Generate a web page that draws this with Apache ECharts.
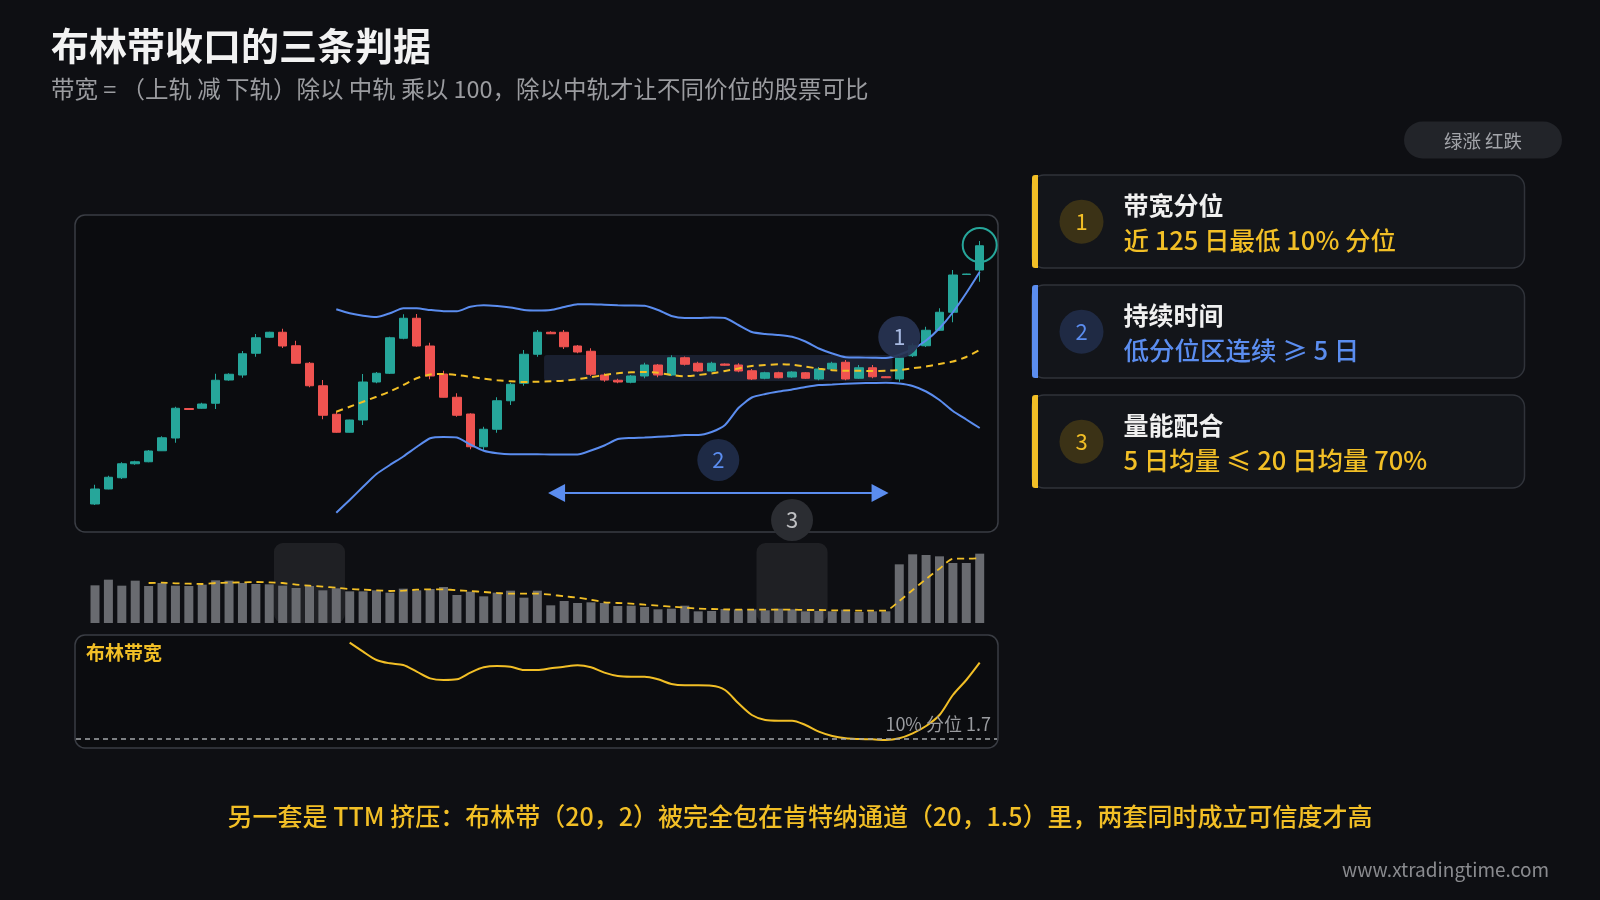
<!DOCTYPE html>
<html><head><meta charset="utf-8">
<script src="https://cdn.jsdelivr.net/npm/echarts/dist/echarts.min.js"></script>
<style>html,body{margin:0;padding:0;background:#0e0f13;}#c{width:1600px;height:900px;}</style>
</head><body><div id="c"></div>
<script>
// ---------- DATA ----------
const categories = Array.from({length: 67}, (_, i) => 'D' + (i + 1));

// [open, close, low, high]
const candles = [
 [7.84,8.44,7.80,8.61],[8.44,8.91,8.43,8.97],[8.89,9.45,8.84,9.51],[9.45,9.53,9.41,9.57],[9.53,9.96,9.51,10.00],
 [9.97,10.49,9.96,10.55],[10.48,11.67,10.29,11.73],[11.66,11.62,11.61,11.66],[11.67,11.84,11.65,11.89],[11.87,12.79,11.64,13.05],
 [12.80,13.03,12.77,13.07],[13.00,13.85,12.89,13.96],[13.87,14.49,13.73,14.64],[14.51,14.71,14.49,14.73],[14.71,14.16,14.08,14.85],
 [14.17,13.47,13.46,14.37],[13.47,12.57,12.51,13.52],[12.57,11.39,11.23,12.80],[11.43,10.71,10.69,11.55],[10.71,11.20,10.70,11.21],
 [11.20,12.72,11.00,13.04],[12.72,13.07,12.67,13.12],[13.07,14.49,13.04,14.53],[14.47,15.27,14.43,15.43],[15.27,14.16,14.13,15.44],
 [14.16,12.96,12.83,14.29],[13.04,12.11,12.10,13.17],[12.11,11.39,11.33,12.27],[11.44,10.13,10.03,11.47],[10.13,10.83,10.00,10.93],
 [10.83,11.97,10.69,12.11],[11.97,12.63,11.80,12.69],[12.67,13.83,12.57,14.00],[13.83,14.71,13.73,14.80],[14.71,14.65,14.64,14.75],
 [14.71,14.13,14.04,14.80],[14.16,13.92,13.87,14.20],[13.95,13.03,12.96,14.07],[13.00,12.80,12.73,13.07],[12.79,12.72,12.67,12.85],
 [12.71,12.96,12.67,13.00],[12.96,13.40,12.87,13.49],[13.40,13.00,12.91,13.44],[13.00,13.69,12.96,13.79],[13.69,13.43,13.38,13.74],
 [13.47,13.16,13.13,13.53],[13.16,13.47,13.13,13.53],[13.44,13.39,13.37,13.46],[13.40,13.16,13.11,13.47],[13.17,12.84,12.80,13.24],
 [12.87,13.09,12.83,13.13],[13.09,12.89,12.87,13.13],[12.92,13.12,12.89,13.15],[13.09,12.87,12.84,13.12],[12.84,13.24,12.79,13.32],
 [13.24,13.47,13.19,13.53],[13.51,12.84,12.79,13.60],[12.87,13.29,12.84,13.40],[13.29,12.93,12.87,13.40],[12.93,12.89,12.88,12.95],
 [12.84,13.69,12.73,13.77],[13.77,14.17,13.72,14.27],[14.17,14.79,14.12,14.93],[14.79,15.51,14.76,15.67],[15.51,17.00,15.11,17.20],
 [17.02,17.04,17.01,17.05],[17.20,18.17,16.73,18.36]
];

const BAND_START = 18;
const upperBand = [15.63,15.47,15.37,15.32,15.47,15.67,15.67,15.60,15.55,15.55,15.73,15.79,15.76,15.70,15.60,15.58,15.60,15.72,15.83,15.83,15.81,15.79,15.78,15.77,15.60,15.36,15.28,15.28,15.30,15.28,15.00,14.72,14.64,14.60,14.53,14.34,14.06,13.86,13.71,13.70,13.69,13.68,13.81,14.04,14.38,14.87,15.51,16.28,17.12];
const middleBand = [11.53,11.73,11.93,12.13,12.34,12.60,12.87,13.02,13.04,13.00,12.93,12.85,12.79,12.75,12.72,12.73,12.75,12.77,12.83,12.91,13.00,13.07,13.11,13.12,13.09,13.00,12.95,13.00,13.06,13.16,13.26,13.36,13.40,13.43,13.41,13.34,13.25,13.19,13.17,13.17,13.16,13.17,13.20,13.27,13.34,13.44,13.54,13.72,14.00];
const lowerBand = [7.49,8.00,8.53,9.04,9.40,9.74,10.12,10.47,10.52,10.50,10.22,9.97,9.87,9.83,9.83,9.83,9.82,9.82,9.82,9.98,10.18,10.44,10.48,10.50,10.53,10.56,10.60,10.60,10.72,11.00,11.68,12.10,12.24,12.34,12.42,12.52,12.60,12.62,12.65,12.67,12.68,12.69,12.66,12.56,12.34,12.00,11.56,11.22,10.88];

const volumes = [113,130,112,127,111,120,112,111,115,128,127,120,117,116,112,105,111,98,104,95,95,98,91,103,98,102,108,84,94,80,91,97,76,97,53,66,60,62,60,51,52,48,41,43,52,35,36,42,41,41,38,43,41,35,36,35,40,33,35,35,176,206,204,200,180,180,208];
const VOL_MA_START = 4;
const volumeMA5 = [120,121,119,118,117,120,121,122,123,122,120,115,112,109,106,102,100,98,96,97,100,101,101,98,96,93,90,88,88,88,85,80,76,70,62,60,58,55,52,49,46,43,42,41,40,40,40,40,40,39,39,38,38,37,37,37,66,99,132,163,193,193,194];

const BW_START = 19;
const bandwidth = [7.48,6.94,6.44,6.24,6.14,5.74,5.34,5.24,5.28,5.68,6.00,6.08,6.04,5.84,5.84,5.94,6.04,6.12,6.00,5.68,5.48,5.44,5.44,5.28,5.00,4.92,4.92,4.90,4.64,3.84,3.14,2.84,2.80,2.80,2.54,2.14,1.88,1.74,1.70,1.68,1.64,1.74,2.04,2.48,3.14,4.34,5.24,6.28];
const bwThreshold = 1.7;
const bwThresholdLabel = '10% 分位 1.7';

const squeezeZone = {from: 34, to: 59, top: 13.80, bottom: 12.76};
const volWindows = [[14, 18], [50, 54]];

const titleText = '布林带收口的三条判据';
const subtitleText = '带宽 = （上轨 减 下轨）除以 中轨 乘以 100，除以中轨才让不同价位的股票可比';
const footerText = '另一套是 TTM 挤压：布林带（20，2）被完全包在肯特纳通道（20，1.5）里，两套同时成立可信度才高';
const watermark = 'www.xtradingtime.com';
const legendText = '绿涨 红跌';
const bwLabel = '布林带宽';

const cardNums = ['1', '2', '3'];
const cardTitles = ['带宽分位', '持续时间', '量能配合'];
const cardSubs = ['近 125 日最低 10% 分位', '低分位区连续 ≥ 5 日', '5 日均量 ≤ 20 日均量 70%'];
const cardKinds = ['gold', 'blue', 'gold'];

// ---------- STYLE ----------
const FONT = '"Noto Sans CJK SC","Noto Sans",sans-serif';
const BG = '#0e0f13';
const UP = '#26a69a', DOWN = '#ef5350';
const BLUE = '#5b8def', GOLD = '#f2bf26';
const GRID_L = 88.3, GRID_W = 898.1;

const lead = (n, arr) => Array(n).fill(null).concat(arr);

const chart = echarts.init(document.getElementById('c'), null, {renderer: 'canvas'});

const option = {
  backgroundColor: BG,
  animation: false,
  grid: [
    {left: GRID_L, width: GRID_W, top: 215, height: 317},
    {left: GRID_L, width: GRID_W, top: 543, height: 80},
    {left: GRID_L, width: GRID_W, top: 635, height: 113}
  ],
  xAxis: [0, 1, 2].map(g => ({type: 'category', gridIndex: g, data: categories, show: false, boundaryGap: true})),
  yAxis: [
    {gridIndex: 0, min: 6.72, max: 19.4, show: false},
    {gridIndex: 1, min: 0, max: 240, show: false},
    {gridIndex: 2, min: 1.16, max: 7.94, show: false}
  ],
  series: [
    {type: 'candlestick', xAxisIndex: 0, yAxisIndex: 0, data: candles, barWidth: 9, z: 3,
     itemStyle: {color: UP, color0: DOWN, borderColor: UP, borderColor0: DOWN, borderWidth: 1}},
    {type: 'line', xAxisIndex: 0, yAxisIndex: 0, data: lead(BAND_START, upperBand), symbol: 'none', smooth: 0.2,
     lineStyle: {color: BLUE, width: 2}, z: 4},
    {type: 'line', xAxisIndex: 0, yAxisIndex: 0, data: lead(BAND_START, middleBand), symbol: 'none', smooth: 0.2,
     lineStyle: {color: GOLD, width: 2, type: [7, 5]}, z: 4},
    {type: 'line', xAxisIndex: 0, yAxisIndex: 0, data: lead(BAND_START, lowerBand), symbol: 'none', smooth: 0.2,
     lineStyle: {color: BLUE, width: 2}, z: 4},
    {type: 'bar', xAxisIndex: 1, yAxisIndex: 1, data: volumes, barWidth: 9, itemStyle: {color: '#696b70'}, z: 3},
    {type: 'line', xAxisIndex: 1, yAxisIndex: 1, data: lead(VOL_MA_START, volumeMA5), symbol: 'none', smooth: 0.2,
     lineStyle: {color: GOLD, width: 1.8, type: [7, 5]}, z: 4},
    {type: 'line', xAxisIndex: 2, yAxisIndex: 2, data: lead(BW_START, bandwidth), symbol: 'none', smooth: 0.3,
     lineStyle: {color: GOLD, width: 2}, z: 4}
  ]
};
chart.setOption(option);

// ---------- ANNOTATIONS (positioned through the chart's own scales) ----------
const band = GRID_W / categories.length;
const P = (i, v, g) => chart.convertToPixel({xAxisIndex: g || 0, yAxisIndex: g || 0}, [i, v]);
const txt = (x, y, text, size, fill, weight, align, z) => ({
  type: 'text', z: z || 20, x: x, y: y,
  style: {text: text, fill: fill, fontSize: size, fontWeight: weight || 'normal', fontFamily: FONT,
          textAlign: align || 'left', textVerticalAlign: 'middle'}
});
const circ = (cx, cy, r, style, z) => ({type: 'circle', z: z || 15, shape: {cx: cx, cy: cy, r: r}, style: style});

const g = [];
// panel boxes
g.push({type: 'rect', z: 0, shape: {x: 75, y: 215, width: 923, height: 317, r: 10},
        style: {fill: '#0b0c0f', stroke: '#3a3d44', lineWidth: 1.5}});
g.push({type: 'rect', z: 0, shape: {x: 75, y: 635, width: 923, height: 113, r: 10},
        style: {fill: '#0b0c0f', stroke: '#3a3d44', lineWidth: 1.5}});

// squeeze zone
const sz0 = P(squeezeZone.from, squeezeZone.top), sz1 = P(squeezeZone.to, squeezeZone.bottom);
g.push({type: 'rect', z: 1, shape: {x: sz0[0] - band / 2, y: sz0[1], width: sz1[0] - sz0[0] + band, height: sz1[1] - sz0[1], r: 3},
        style: {fill: 'rgba(80,105,170,0.22)'}});

// volume windows
const vTop = P(0, 240, 1)[1], vBot = P(0, 0, 1)[1];
volWindows.forEach(w => {
  const a = P(w[0], 0, 1)[0], b = P(w[1], 0, 1)[0];
  g.push({type: 'rect', z: 1, shape: {x: a - band / 2 - 2, y: vTop, width: b - a + band + 4, height: vBot - vTop, r: 9},
          style: {fill: 'rgba(255,255,255,0.075)'}});
});

// threshold dashed line in bandwidth panel
const thY = P(0, bwThreshold, 2)[1];
g.push({type: 'line', z: 5, shape: {x1: 76, y1: thY, x2: 997, y2: thY},
        style: {stroke: '#a4a6ab', lineWidth: 1.5, lineDash: [5, 4]}});
g.push(txt(991, thY - 15, bwThresholdLabel, 18, '#9a9ca0', 'normal', 'right'));
g.push(txt(86, 653, bwLabel, 19, GOLD, 'bold'));

// arrow spanning the squeeze zone
const arrY = P(0, 8.28)[1];
const xL = P(squeezeZone.from, 0)[0] - band / 2 + 4, xR = P(squeezeZone.to, 0)[0] + band / 2 - 4;
g.push({type: 'line', z: 12, shape: {x1: xL + 10, y1: arrY, x2: xR - 10, y2: arrY}, style: {stroke: BLUE, lineWidth: 2.2}});
g.push({type: 'polygon', z: 12, shape: {points: [[xL, arrY], [xL + 17, arrY - 9], [xL + 17, arrY + 9]]}, style: {fill: BLUE}});
g.push({type: 'polygon', z: 12, shape: {points: [[xR, arrY], [xR - 17, arrY - 9], [xR - 17, arrY + 9]]}, style: {fill: BLUE}});

// numbered markers
const c2y = P(0, 9.6)[1], c2x = (xL + xR) / 2;
g.push(circ(c2x, c2y, 21, {fill: '#1e2a45'}));
g.push(txt(c2x, c2y, '2', 22, BLUE, 'normal', 'center'));
const c1 = P(60, 14.52);
g.push(circ(c1[0], c1[1], 21, {fill: 'rgba(40,52,82,0.93)'}));
g.push(txt(c1[0], c1[1], '1', 22, '#a9bbe3', 'normal', 'center'));
const c3 = P(52, 7.2);
g.push(circ(c3[0], c3[1], 21, {fill: '#2b2d32'}));
g.push(txt(c3[0], c3[1], '3', 22, '#bfc0c3', 'normal', 'center'));
const cg = P(66, 18.2);
g.push(circ(cg[0], cg[1], 17, {fill: 'none', stroke: UP, lineWidth: 2}));

// title block
g.push(txt(51, 46, titleText, 38, '#f2f2f2', 'bold'));
g.push(txt(51, 89, subtitleText, 23.5, '#9b9ca0', 'normal'));

// legend pill
g.push({type: 'rect', z: 10, shape: {x: 1404, y: 121.5, width: 158, height: 37, r: 18.5}, style: {fill: '#222429'}});
g.push(txt(1483, 140.5, legendText, 18.5, '#a3a5aa', 'normal', 'center'));

// cards
const kindStyle = {gold: {accent: GOLD, badge: '#3b3216'}, blue: {accent: BLUE, badge: '#1f2a44'}};
cardTitles.forEach((t, k) => {
  const top = 175 + 110 * k, st = kindStyle[cardKinds[k]];
  g.push({type: 'rect', z: 10, shape: {x: 1032, y: top, width: 492.5, height: 93, r: 12},
          style: {fill: '#13151a', stroke: '#30333a', lineWidth: 1.5}});
  g.push({type: 'rect', z: 11, shape: {x: 1032, y: top, width: 6, height: 93, r: [3, 0, 0, 3]}, style: {fill: st.accent}});
  g.push(circ(1081.5, top + 46.7, 22, {fill: st.badge}, 12));
  g.push(txt(1081.5, top + 46.7, cardNums[k], 22, st.accent, 'normal', 'center'));
  g.push(txt(1123.5, top + 30, t, 25, '#f0f0f0', 'bold'));
  g.push(txt(1123.5, top + 65, cardSubs[k], 25.5, st.accent, '500'));
});

// footer
g.push(txt(800, 816, footerText, 25, GOLD, '500', 'center'));
g.push(txt(1549, 870, watermark, 19, '#8a8b8f', 'normal', 'right'));

chart.setOption({graphic: {elements: g}});
</script></body></html>
